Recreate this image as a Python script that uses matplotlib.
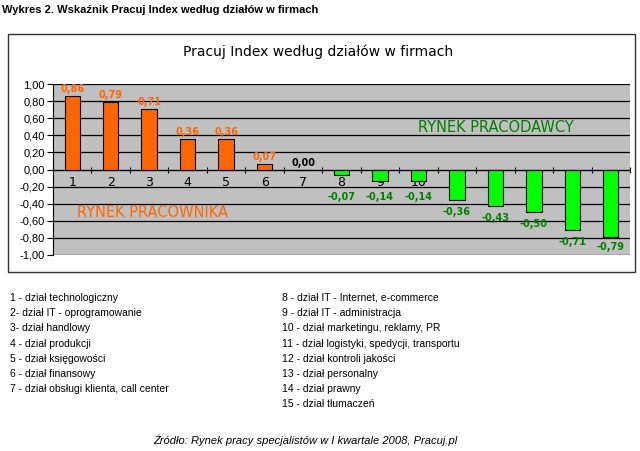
import matplotlib
matplotlib.use("Agg")
import matplotlib.pyplot as plt
from matplotlib.patches import Rectangle

categories = [str(i) for i in range(1, 16)]
values = [0.86, 0.79, 0.71, 0.36, 0.36, 0.07, 0.00, -0.07, -0.14, -0.14,
          -0.36, -0.43, -0.50, -0.71, -0.79]
yticks = [1.0, 0.8, 0.6, 0.4, 0.2, 0.0, -0.2, -0.4, -0.6, -0.8, -1.0]
legend_left = ["1 - dział technologiczny", "2- dział IT - oprogramowanie",
               "3- dział handlowy", "4 - dział produkcji", "5 - dział księgowości",
               "6 - dział finansowy", "7 - dział obsługi klienta, call center"]
legend_right = ["8 - dział IT - Internet, e-commerce", "9 - dział IT - administracja",
                "10 - dział marketingu, reklamy, PR",
                "11 - dział logistyki, spedycji, transportu",
                "12 - dział kontroli jakości", "13 - dział personalny",
                "14 - dział prawny", "15 - dział tłumaczeń"]

plt.rcParams['font.family'] = ['DejaVu Sans']
W, H = 640, 451
fig = plt.figure(figsize=(W/100, H/100), dpi=100)
fig.patch.set_facecolor('white')

def fx(x): return x / W
def fy(y): return 1 - y / H

# outer box
fig.patches.append(Rectangle((fx(8), fy(272)), fx(635) - fx(8), fy(34) - fy(272),
                             transform=fig.transFigure, fill=False,
                             edgecolor='#333333', linewidth=1.0))

fig.text(fx(2), fy(10), "Wykres 2. Wskaźnik Pracuj Index według działów w firmach",
         fontsize=8, fontweight='bold', va='center', ha='left',
         family='Liberation Sans')
fig.text(fx(318), fy(52), "Pracuj Index według działów w firmach",
         fontsize=10, va='center', ha='center')

ax = fig.add_axes([fx(53), fy(255), fx(630) - fx(53), fy(84) - fy(255)])
ax.set_facecolor('#C0C0C0')
x = list(range(len(values)))
colors = ['#FF6600' if v >= 0 else '#00FF00' for v in values]
ax.bar(x, values, width=0.4, color=colors, edgecolor='black', linewidth=0.8, zorder=3)
ax.set_xlim(-0.5, len(values) - 0.5)
ax.set_ylim(-1.0, 1.0)
ax.set_yticks(yticks)
ax.set_yticklabels([f"{v:.2f}".replace('.', ',') for v in yticks], fontsize=8,
                   family='Liberation Sans')
for v in yticks:
    ax.axhline(v, color='black', linewidth=0.9, zorder=1)

for sp in ['top', 'right']:
    ax.spines[sp].set_visible(False)
ax.spines['left'].set_linewidth(0.8)
ax.spines['bottom'].set_position(('data', 0))
ax.spines['bottom'].set_linewidth(0.8)
ax.spines['bottom'].set_zorder(4)
ax.set_xticks([i - 0.5 for i in range(len(values) + 1)])
ax.set_xticklabels([])
ax.tick_params(axis='x', which='major', direction='inout', length=5, width=0.8)
ax.set_xticks(x, minor=True)
ax.set_xticklabels(categories, minor=True, fontsize=9)
ax.tick_params(axis='x', which='minor', length=0, pad=5)
for lbl in ax.get_xticklabels(minor=True):
    lbl.set_zorder(5)
ax.tick_params(axis='y', length=4, width=0.8, pad=2)

for xi, v in zip(x, values):
    s = f"{v:.2f}".replace('.', ',')
    if v > 0:
        ax.text(xi, v + 0.02, s, ha='center', va='bottom', fontsize=7,
                fontweight='bold', color='#FF6600', zorder=5)
    elif v == 0:
        ax.text(xi, 0.02, s, ha='center', va='bottom', fontsize=7,
                fontweight='bold', color='black', zorder=5)
    else:
        yc = max(min(v, -0.18) - 0.14, -0.91)
        ax.text(xi, yc, s, ha='center', va='center', fontsize=7,
                fontweight='bold', color='#008000', zorder=5)

ax.text(0.042, -0.50, "RYNEK PRACOWNIKA", transform=ax.get_yaxis_transform(),
        fontsize=10.5, color='#FF6600', va='center', ha='left')
ax.text(0.633, 0.49, "RYNEK PRACODAWCY", transform=ax.get_yaxis_transform(),
        fontsize=10.5, color='#008000', va='center', ha='left')

for i, t in enumerate(legend_left):
    fig.text(fx(10), fy(298 + i * 15.2), t, fontsize=7.5, va='center', ha='left',
             family='Liberation Sans')
for i, t in enumerate(legend_right):
    fig.text(fx(282), fy(298 + i * 15.2), t, fontsize=7.5, va='center', ha='left',
             family='Liberation Sans')

fig.text(fx(305), fy(440), "Źródło: Rynek pracy specjalistów w I kwartale 2008, Pracuj.pl",
         fontsize=8, style='italic', va='center', ha='center', family='Liberation Sans')

fig.savefig("out.png", dpi=100)
